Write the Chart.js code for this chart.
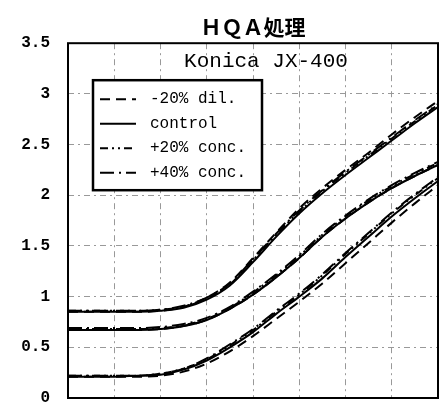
<!DOCTYPE html>
<html>
<head>
<meta charset="utf-8">
<script src="https://cdn.jsdelivr.net/npm/chart.js@4/dist/chart.umd.min.js"></script>
<style>
  body { margin: 0; background: #fff; }
  canvas { display: block; }
</style>
</head>
<body>
<canvas id="chart" width="439" height="410"></canvas>
<script>
// log exposure steps (x axis has no labels in the original)
const exposure = [0, 0.5, 1, 1.5, 2, 2.5, 3, 3.5, 4, 4.5, 5, 5.5, 6, 6.5, 7, 7.5, 8];

const seriesLabels = ['-20% dil.', 'control', '+20% conc.', '+40% conc.'];

// density, blue / green / red layers
const dilB = [0.85, 0.85, 0.85, 0.85, 0.86, 0.90, 0.99, 1.14, 1.38, 1.63, 1.87, 2.07, 2.25, 2.42, 2.60, 2.77, 2.93];
const dilG = [0.67, 0.67, 0.67, 0.67, 0.68, 0.71, 0.77, 0.88, 1.02, 1.19, 1.38, 1.59, 1.77, 1.93, 2.07, 2.19, 2.30];
const dilR = [0.21, 0.21, 0.21, 0.21, 0.22, 0.26, 0.34, 0.46, 0.61, 0.78, 0.95, 1.13, 1.33, 1.53, 1.73, 1.92, 2.10];

const ctrlB = [0.85, 0.85, 0.85, 0.85, 0.86, 0.89, 0.97, 1.11, 1.34, 1.59, 1.82, 2.02, 2.20, 2.37, 2.54, 2.71, 2.87];
const ctrlG = [0.67, 0.67, 0.67, 0.67, 0.68, 0.71, 0.77, 0.88, 1.02, 1.19, 1.38, 1.59, 1.77, 1.93, 2.07, 2.19, 2.30];
const ctrlR = [0.21, 0.21, 0.21, 0.22, 0.23, 0.28, 0.37, 0.50, 0.65, 0.83, 1.00, 1.18, 1.39, 1.59, 1.79, 1.97, 2.14];

const c20B = [0.86, 0.86, 0.86, 0.86, 0.87, 0.90, 0.98, 1.12, 1.36, 1.61, 1.84, 2.04, 2.22, 2.39, 2.56, 2.73, 2.89];
const c20G = [0.68, 0.68, 0.68, 0.68, 0.69, 0.72, 0.78, 0.89, 1.04, 1.21, 1.40, 1.61, 1.79, 1.95, 2.09, 2.21, 2.32];
const c20R = [0.22, 0.22, 0.22, 0.22, 0.24, 0.29, 0.38, 0.52, 0.67, 0.85, 1.02, 1.21, 1.42, 1.62, 1.82, 2.00, 2.17];

const c40B = [0.86, 0.86, 0.86, 0.86, 0.87, 0.91, 0.99, 1.13, 1.37, 1.62, 1.85, 2.05, 2.23, 2.40, 2.57, 2.74, 2.90];
const c40G = [0.69, 0.69, 0.69, 0.69, 0.70, 0.73, 0.79, 0.90, 1.05, 1.22, 1.41, 1.62, 1.80, 1.96, 2.10, 2.22, 2.33];
const c40R = [0.22, 0.22, 0.22, 0.22, 0.24, 0.29, 0.39, 0.53, 0.68, 0.86, 1.03, 1.22, 1.43, 1.63, 1.83, 2.01, 2.18];

const yTicks = [0, 0.5, 1, 1.5, 2, 2.5, 3, 3.5];

const dashes = [[10, 6], [], [8, 4, 2, 4, 2, 4], [14, 5, 2, 5]];
const groups = [[dilB, dilG, dilR], [ctrlB, ctrlG, ctrlR], [c20B, c20G, c20R], [c40B, c40G, c40R]];

const datasets = [];
groups.forEach((layers, s) => {
  layers.forEach((layer) => {
    datasets.push({
      label: seriesLabels[s],
      data: exposure.map((x, i) => ({ x: x, y: layer[i] })),
      borderColor: '#000',
      borderWidth: 2,
      borderDash: dashes[s],
      pointRadius: 0,
      cubicInterpolationMode: 'monotone',
      fill: false
    });
  });
});

const framePlugin = {
  id: 'frame',
  afterDraw(chart) {
    const { ctx, chartArea: a } = chart;
    ctx.save();
    ctx.strokeStyle = '#000';
    ctx.lineWidth = 2;
    ctx.strokeRect(a.left, a.top, a.right - a.left, a.bottom - a.top);

    // subtitle inside the plot
    ctx.fillStyle = '#000';
    ctx.font = '21px "Liberation Mono"';
    ctx.textAlign = 'center';
    ctx.textBaseline = 'middle';
    ctx.fillText('Konica JX-400', 266, 61);

    // legend box
    const bx = a.left + 25, by = a.top + 37, bw = 169, bh = 110;
    ctx.fillStyle = '#fff';
    ctx.fillRect(bx, by, bw, bh);
    ctx.lineWidth = 2.5;
    ctx.strokeRect(bx, by, bw, bh);
    ctx.font = '16px "Liberation Mono"';
    ctx.textAlign = 'left';
    seriesLabels.forEach((lab, i) => {
      const ry = by + 19 + i * 24.5;
      ctx.beginPath();
      ctx.setLineDash(dashes[i]);
      ctx.lineWidth = 2;
      ctx.moveTo(bx + 7, ry);
      ctx.lineTo(bx + 43, ry);
      ctx.stroke();
      ctx.setLineDash([]);
      ctx.fillStyle = '#000';
      ctx.fillText(lab, bx + 57, ry);
    });
    ctx.restore();
  }
};

new Chart(document.getElementById('chart'), {
  type: 'line',
  data: { datasets },
  plugins: [framePlugin],
  options: {
    responsive: false,
    animation: false,
    layout: { padding: { right: 1 } },
    plugins: {
      legend: { display: false },
      tooltip: { enabled: false },
      title: {
        display: true,
        text: 'ＨＱＡ処理',
        fullSize: false,
        color: '#000',
        font: { family: '"Noto Sans CJK JP"', size: 21, weight: 'bold' },
        padding: { top: 14, bottom: 4 }
      }
    },
    scales: {
      x: {
        type: 'linear',
        min: 0,
        max: 8,
        ticks: { display: false, stepSize: 1 },
        grid: { color: '#999', lineWidth: 1, drawTicks: false },
        border: { display: false, dash: [6, 4, 2, 4] },
        afterFit(scale) { scale.height = 12; }
      },
      y: {
        min: 0,
        max: 3.5,
        afterBuildTicks(scale) { scale.ticks = yTicks.map(v => ({ value: v })); },
        ticks: {
          padding: 18,
          color: '#000',
          font: { family: '"Liberation Mono"', size: 16, weight: 'bold' },
          callback: (v) => String(v)
        },
        grid: { color: '#999', lineWidth: 1, drawTicks: false },
        border: { display: false, dash: [6, 4, 2, 4] },
        afterFit(scale) {
          scale.width = 68;
          scale.paddingTop = 4;
          scale.paddingBottom = 4;
        }
      }
    }
  }
});
</script>
</body>
</html>
